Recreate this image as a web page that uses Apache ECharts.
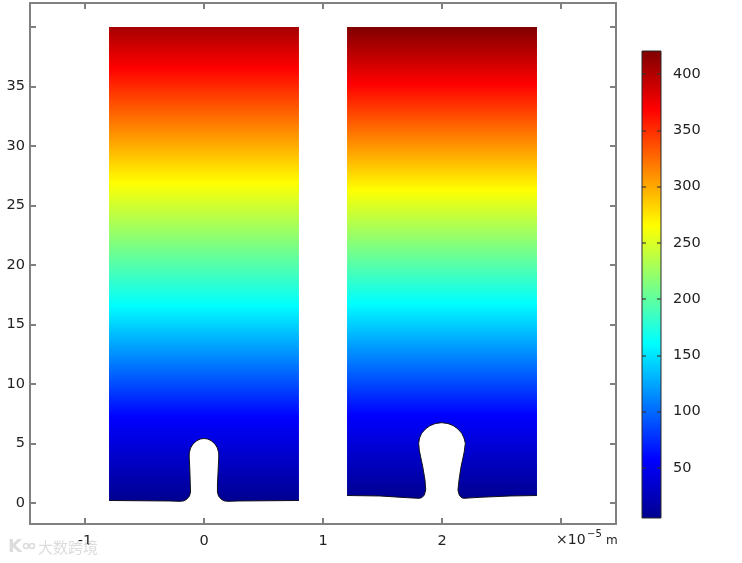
<!DOCTYPE html>
<html>
<head>
<meta charset="utf-8">
<title>Temperature field</title>
<style>
html, body { margin: 0; padding: 0; background: #fff; }
#main { width: 742px; height: 563px; }
</style>
<script src="https://cdn.jsdelivr.net/npm/echarts@6/dist/echarts.min.js"></script>
</head>
<body>
<div id="main"></div>
<script>
// axis ticks and labels
const xTicks = [-1, 0, 1, 2, 3];
const xLabels = [-1, 0, 1, 2];
const yTicks = [0, 5, 10, 15, 20, 25, 30, 35, 40];
const yLabels = [0, 5, 10, 15, 20, 25, 30, 35];
const barTicks = [50, 100, 150, 200, 250, 300, 350, 400];

// colour table, value -> colour
const mapValues = [5.6, 57.5, 161, 265, 368.6, 420.4];
const mapColors = ['#00008f', '#0000ff', '#00ffff', '#ffff00', '#ff0000', '#800000'];

// field: height -> value
const leftLevels = [0.15, 7.2, 16.6, 26.9, 36.55, 40];
const leftValues = [6, 57.5, 161, 265, 368.6, 405];
const rightLevels = [0.4, 7.4, 16.8, 26.3, 35.2, 40];
const rightValues = [6, 57.5, 161, 265, 368.6, 420.4];

// lower boundary of each block, notch included
const leftEdgeX = [-0.798, -0.538, -0.286, -0.202, -0.168, -0.143, -0.122, -0.113, -0.115, -0.119, -0.124, -0.124,
    -0.113, -0.092, -0.059, -0.029, 0, 0.029, 0.059, 0.092, 0.113, 0.124, 0.124, 0.119, 0.113, 0.113, 0.122, 0.143,
    0.168, 0.202, 0.286, 0.538, 0.798];
const leftEdgeY = [0.21, 0.19, 0.17, 0.14, 0.18, 0.34, 0.59, 0.92, 1.51, 2.77, 3.78, 4.2,
    4.62, 4.96, 5.25, 5.38, 5.42, 5.38, 5.25, 4.96, 4.62, 4.2, 3.78, 2.77, 1.51, 0.92, 0.59, 0.34,
    0.18, 0.14, 0.17, 0.19, 0.21];
const rightEdgeX = [1.202, 1.479, 1.703, 1.809, 1.832, 1.851, 1.863, 1.857, 1.838, 1.819, 1.809, 1.804, 1.811, 1.829,
    1.861, 1.899, 1.945, 1.997, 2.05, 2.095, 2.134, 2.166, 2.185, 2.196, 2.187, 2.176, 2.16, 2.143, 2.134, 2.145,
    2.16, 2.179, 2.319, 2.571, 2.798];
const rightEdgeY = [0.63, 0.59, 0.45, 0.39, 0.46, 0.67, 1.09, 1.93, 3.05, 3.95, 4.45, 5.02, 5.46, 5.86,
    6.22, 6.5, 6.68, 6.75, 6.68, 6.5, 6.22, 5.86, 5.46, 5.02, 4.31, 3.78, 3.05, 1.93, 1.09, 0.67,
    0.48, 0.39, 0.48, 0.59, 0.63];
const blockTop = 40;

const axisGray = '#808080';
const textColor = '#222';
const fontName = 'DejaVu Sans';
const markGray = '#dcdcdc';

const chart = echarts.init(document.getElementById('main'));

const colorOf = value => {
    let i = 0;
    while (i < mapValues.length - 2 && value > mapValues[i + 1]) {
        i++;
    }
    const t = (value - mapValues[i]) / (mapValues[i + 1] - mapValues[i]);
    return echarts.color.lerp(Math.max(0, Math.min(1, t)), [mapColors[i], mapColors[i + 1]]);
};

const blockSeries = (edgeX, edgeY, levels, values) => ({
    type: 'custom',
    coordinateSystem: 'cartesian2d',
    xAxisIndex: 0,
    yAxisIndex: 0,
    silent: true,
    z: 2,
    data: [[edgeX[0], blockTop]],
    renderItem: (params, api) => {
        const edge = edgeX.map((x, i) => api.coord([x, edgeY[i]]));
        const topRight = api.coord([edgeX[edgeX.length - 1], blockTop]);
        const topLeft = api.coord([edgeX[0], blockTop]);
        const y0 = api.coord([0, levels[0]])[1];
        const y1 = api.coord([0, levels[levels.length - 1]])[1];
        const stops = levels.map((level, i) => ({
            offset: (api.coord([0, level])[1] - y0) / (y1 - y0),
            color: colorOf(values[i])
        }));
        return {
            type: 'group',
            children: [{
                type: 'polygon',
                shape: {points: edge.concat([topRight, topLeft])},
                style: {fill: new echarts.graphic.LinearGradient(0, y0, 0, y1, stops, true)}
            }, {
                type: 'polyline',
                shape: {points: edge},
                style: {fill: 'none', stroke: '#10101c', lineWidth: 1}
            }]
        };
    }
});

const frameAxis = (extra, ticks, labels, labelExtra) => ({
    type: 'value',
    gridIndex: 0,
    z: 5,
    splitLine: {show: false},
    axisLine: {show: true, onZero: false, lineStyle: {color: axisGray, width: 2}},
    axisTick: {show: true, inside: true, length: 6, customValues: ticks, lineStyle: {color: axisGray, width: 2}},
    axisLabel: labels
        ? {show: true, customValues: labels, color: textColor, fontFamily: fontName, fontSize: 14.5, ...labelExtra}
        : {show: false},
    ...extra
});

const barAxis = (extra, labels) => ({
    type: 'value',
    gridIndex: 1,
    min: mapValues[0],
    max: mapValues[mapValues.length - 1],
    z: 5,
    splitLine: {show: false},
    axisLine: {show: false},
    axisTick: {show: true, inside: true, length: 4, customValues: barTicks, lineStyle: {color: '#333', width: 1.5, opacity: 0.75}},
    axisLabel: labels
        ? {show: true, customValues: labels, color: textColor, fontFamily: fontName, fontSize: 14.5, margin: 12, padding: [2, 0, 0, 0]}
        : {show: false},
    ...extra
});

chart.setOption({
    animation: false,
    backgroundColor: '#fff',
    grid: [
        {left: 30, top: 3, width: 586, height: 521},
        {left: 642, top: 51, width: 19, height: 467}
    ],
    xAxis: [
        frameAxis({position: 'bottom', min: -1.462, max: 3.462}, xTicks, xLabels, {margin: 10}),
        frameAxis({position: 'top', min: -1.462, max: 3.462}, xTicks),
        {type: 'value', gridIndex: 1, min: 0, max: 1, show: false}
    ],
    yAxis: [
        frameAxis({position: 'left', min: -1.765, max: 42.02}, yTicks, yLabels, {margin: 5, padding: [2, 0, 0, 0]}),
        frameAxis({position: 'right', min: -1.765, max: 42.02}, yTicks),
        barAxis({position: 'left'}),
        barAxis({position: 'right'}, barTicks)
    ],
    graphic: [
        {type: 'text', left: 556, top: 533, style: {text: '×10', fill: textColor, font: '14px "DejaVu Sans"'}},
        {type: 'text', left: 587, top: 529, style: {text: '−5', fill: textColor, font: '10px "DejaVu Sans"'}},
        {type: 'text', left: 606, top: 535, style: {text: 'm', fill: textColor, font: '12px "DejaVu Sans"'}},
        {type: 'text', left: 38, top: 540, z: 10, style: {text: '大数跨境', fill: markGray, font: '15px "Noto Sans CJK SC"'}},
        {type: 'text', left: 8, top: 538, z: 10, style: {text: 'K', fill: markGray, font: 'bold 18px "DejaVu Sans"'}},
        {type: 'circle', left: 21, top: 541, z: 10, shape: {r: 2.5}, style: {fill: 'none', stroke: markGray, lineWidth: 1.5}},
        {type: 'circle', left: 27, top: 541, z: 10, shape: {r: 2.5}, style: {fill: 'none', stroke: markGray, lineWidth: 1.5}}
    ],
    series: [
        blockSeries(leftEdgeX, leftEdgeY, leftLevels, leftValues),
        blockSeries(rightEdgeX, rightEdgeY, rightLevels, rightValues),
        {
            type: 'custom',
            coordinateSystem: 'cartesian2d',
            xAxisIndex: 2,
            yAxisIndex: 2,
            silent: true,
            z: 2,
            data: [[0, mapValues[0]]],
            renderItem: (params, api) => {
                const lo = api.coord([0, mapValues[0]]);
                const hi = api.coord([1, mapValues[mapValues.length - 1]]);
                const stops = mapValues.map((value, i) => ({
                    offset: (value - mapValues[0]) / (mapValues[mapValues.length - 1] - mapValues[0]),
                    color: mapColors[i]
                }));
                return {
                    type: 'rect',
                    shape: {x: lo[0], y: hi[1], width: hi[0] - lo[0], height: lo[1] - hi[1]},
                    style: {
                        fill: new echarts.graphic.LinearGradient(0, lo[1], 0, hi[1], stops, true),
                        stroke: '#2a2a2a',
                        lineWidth: 1
                    }
                };
            }
        }
    ]
});
</script>
</body>
</html>
